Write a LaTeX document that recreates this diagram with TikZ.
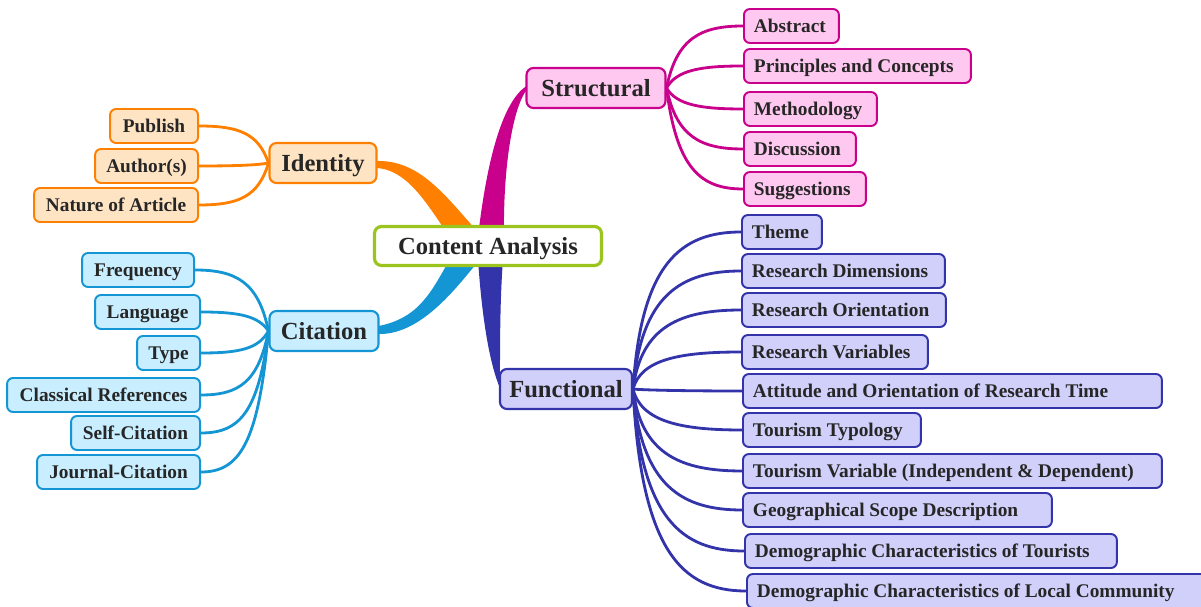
\documentclass[tikz,border=0pt]{standalone}
\usepackage{fontspec}
\setmainfont{Liberation Serif}
\usetikzlibrary{calc}
\pgfdeclarelayer{background}
\pgfsetlayers{background,main}
\definecolor{txt}{HTML}{262626}
\definecolor{magB}{HTML}{C8008C}
\definecolor{magF}{HTML}{FFC8F0}
\definecolor{bluB}{HTML}{3333AA}
\definecolor{bluF}{HTML}{D0D0FA}
\definecolor{oraB}{HTML}{FF7F00}
\definecolor{oraF}{HTML}{FFE4C4}
\definecolor{cyaB}{HTML}{1596D4}
\definecolor{cyaF}{HTML}{C8EEFF}
\definecolor{grnB}{HTML}{9BC41E}
\newcommand\Lt[2]{\makebox[#1][l]{#2}}
\newcommand\Ct[2]{\makebox[#1][c]{#2}}
\begin{document}
\begin{tikzpicture}[x=0.02cm,y=-0.02cm,
  leaf/.style={draw, rounded corners=0.12cm, line width=1.1pt, inner xsep=0.2cm, inner ysep=0pt,
    minimum height=0.68cm, text height=7.3pt, text depth=0pt, text=txt, font=\fontsize{11}{13}\selectfont\bfseries},
  sleaf/.style={leaf, draw=magB, fill=magF, anchor=west},
  fleaf/.style={leaf, draw=bluB, fill=bluF, anchor=west},
  ileaf/.style={leaf, draw=oraB, fill=oraF, anchor=east},
  cleaf/.style={leaf, draw=cyaB, fill=cyaF, anchor=east},
  mainbox/.style={draw, rounded corners=0.14cm, line width=1.2pt, inner sep=0pt,
    minimum height=0.8cm, text height=9.3pt, text depth=0pt, text=txt, font=\fontsize{14}{16}\selectfont\bfseries},
  smain/.style={mainbox, draw=magB, fill=magF},
  fmain/.style={mainbox, draw=bluB, fill=bluF},
  imain/.style={mainbox, draw=oraB, fill=oraF},
  cmain/.style={mainbox, draw=cyaB, fill=cyaF},
  centre/.style={mainbox, draw=grnB, fill=white, line width=1.8pt, minimum height=0.78cm, minimum width=4.54cm},
  link/.style={line width=1.6pt}
]
\useasboundingbox (0,0) rectangle (1201,607);

% centre and main branches
\node[centre] (ca) at (488,246) {Content Analysis};
\node[smain, minimum width=2.78cm] (st) at (596,88) {Structural};
\node[fmain, minimum width=2.64cm] (fu) at (566,389) {Functional};
\node[imain, minimum width=2.14cm] (id) at (323,163) {Identity};
\node[cmain, minimum width=2.18cm] (ci) at (324,331) {Citation};

% structural leaves
\node[sleaf] (s1) at (743,26) {\Lt{1.50cm}{Abstract}};
\node[sleaf] (s2) at (743,66) {\Lt{4.14cm}{Principles and Concepts}};
\node[sleaf] (s3) at (743,109) {\Lt{2.26cm}{Methodology}};
\node[sleaf] (s4) at (743,149) {\Lt{1.84cm}{Discussion}};
\node[sleaf] (s5) at (743,189) {\Lt{2.04cm}{Suggestions}};

% functional leaves
\node[fleaf] (f1) at (741,232) {\Lt{1.20cm}{Theme}};
\node[fleaf] (f2) at (741,271) {\Lt{3.66cm}{Research Dimensions}};
\node[fleaf] (f3) at (741,310) {\Lt{3.68cm}{Research Orientation}};
\node[fleaf] (f4) at (741,352) {\Lt{3.32cm}{Research Variables}};
\node[fleaf] (f5) at (742,391) {\Lt{7.98cm}{Attitude and Orientation of Research Time}};
\node[fleaf] (f6) at (742,430) {\Lt{3.16cm}{Tourism Typology}};
\node[fleaf] (f7) at (742,471) {\Lt{7.98cm}{Tourism Variable (Independent \& Dependent)}};
\node[fleaf] (f8) at (742,510) {\Lt{5.78cm}{Geographical Scope Description}};
\node[fleaf] (f9) at (744,551) {\Lt{7.04cm}{Demographic Characteristics of Tourists}};
\node[fleaf] (f10) at (746,591) {\Lt{8.90cm}{Demographic Characteristics of Local Community}};

% identity leaves
\node[ileaf] (i1) at (199,126) {\Ct{1.36cm}{Publish}};
\node[ileaf] (i2) at (199,166) {\Ct{1.66cm}{Author(s)}};
\node[ileaf] (i3) at (199,205) {\Ct{2.88cm}{Nature of Article}};

% citation leaves
\node[cleaf] (c1) at (195,270) {\Ct{1.84cm}{Frequency}};
\node[cleaf] (c2) at (201,312) {\Ct{1.70cm}{Language}};
\node[cleaf] (c3) at (201,353) {\Ct{0.86cm}{Type}};
\node[cleaf] (c4) at (201,395) {\Ct{3.46cm}{Classical References}};
\node[cleaf] (c5) at (201,433) {\Ct{2.18cm}{Self-Citation}};
\node[cleaf] (c6) at (201,472) {\Ct{2.86cm}{Journal-Citation}};

\begin{pgfonlayer}{background}
% tapered main branches
\fill[magB] ($(ca.north)+(-10,12)$) .. controls (488,150) and (505,100) .. ($(st.west)+(1,-2)$)
  -- ($(st.west)+(1,2)$) .. controls (512,110) and (503,170) .. ($(ca.north)+(16,12)$) -- cycle;
\fill[bluB] ($(ca.south)+(-10,-8)$) .. controls (482,320) and (490,365) .. ($(fu.west)+(1,-1)$)
  -- ($(fu.west)+(1,-5)$) .. controls (500,340) and (500,300) .. ($(ca.south)+(15,-8)$) -- cycle;
\fill[oraB] ($(id.east)+(-1,-2)$) .. controls (420,160) and (445,195) .. ($(ca.north)+(-6,12)$)
  -- ($(ca.north)+(-38,12)$) .. controls (430,210) and (410,170) .. ($(id.east)+(-1,5)$) -- cycle;
\fill[cyaB] ($(ci.east)+(-1,-5)$) .. controls (420,318) and (432,290) .. ($(ca.south)+(-38,-8)$)
  -- ($(ca.south)+(-8,-8)$) .. controls (455,290) and (420,335) .. ($(ci.east)+(-1,3)$) -- cycle;

% structural links
\draw[link, magB] (st.east) .. controls +(10,-50) and +(-42,0) .. (s1.west);
\draw[link, magB] (st.east) .. controls +(10,-18) and +(-42,0) .. (s2.west);
\draw[link, magB] (st.east) .. controls +(10,17) and +(-42,0) .. (s3.west);
\draw[link, magB] (st.east) .. controls +(10,49) and +(-42,0) .. (s4.west);
\draw[link, magB] (st.east) .. controls +(10,81) and +(-42,0) .. (s5.west);

% functional links
\draw[link, bluB] (fu.east) .. controls +(8,-126) and +(-60,0) .. (f1.west);
\draw[link, bluB] (fu.east) .. controls +(8,-94) and +(-60,0) .. (f2.west);
\draw[link, bluB] (fu.east) .. controls +(8,-63) and +(-60,0) .. (f3.west);
\draw[link, bluB] (fu.east) .. controls +(8,-30) and +(-60,0) .. (f4.west);
\draw[link, bluB] (fu.east) .. controls +(8,1) and +(-60,0) .. (f5.west);
\draw[link, bluB] (fu.east) .. controls +(8,33) and +(-60,0) .. (f6.west);
\draw[link, bluB] (fu.east) .. controls +(8,66) and +(-60,0) .. (f7.west);
\draw[link, bluB] (fu.east) .. controls +(8,97) and +(-60,0) .. (f8.west);
\draw[link, bluB] (fu.east) .. controls +(8,130) and +(-62,0) .. (f9.west);
\draw[link, bluB] (fu.east) .. controls +(8,162) and +(-64,0) .. (f10.west);

% identity links
\draw[link, oraB] (id.west) .. controls +(-10,-30) and +(39,0) .. (i1.east);
\draw[link, oraB] (id.west) .. controls +(-10,2) and +(39,0) .. (i2.east);
\draw[link, oraB] (id.west) .. controls +(-10,34) and +(39,0) .. (i3.east);

% citation links
\draw[link, cyaB] (ci.west) .. controls +(-10,-49) and +(41,0) .. (c1.east);
\draw[link, cyaB] (ci.west) .. controls +(-10,-15) and +(38,0) .. (c2.east);
\draw[link, cyaB] (ci.west) .. controls +(-10,18) and +(38,0) .. (c3.east);
\draw[link, cyaB] (ci.west) .. controls +(-10,51) and +(38,0) .. (c4.east);
\draw[link, cyaB] (ci.west) .. controls +(-10,82) and +(38,0) .. (c5.east);
\draw[link, cyaB] (ci.west) .. controls +(-10,113) and +(38,0) .. (c6.east);
\end{pgfonlayer}
\end{tikzpicture}
\end{document}
